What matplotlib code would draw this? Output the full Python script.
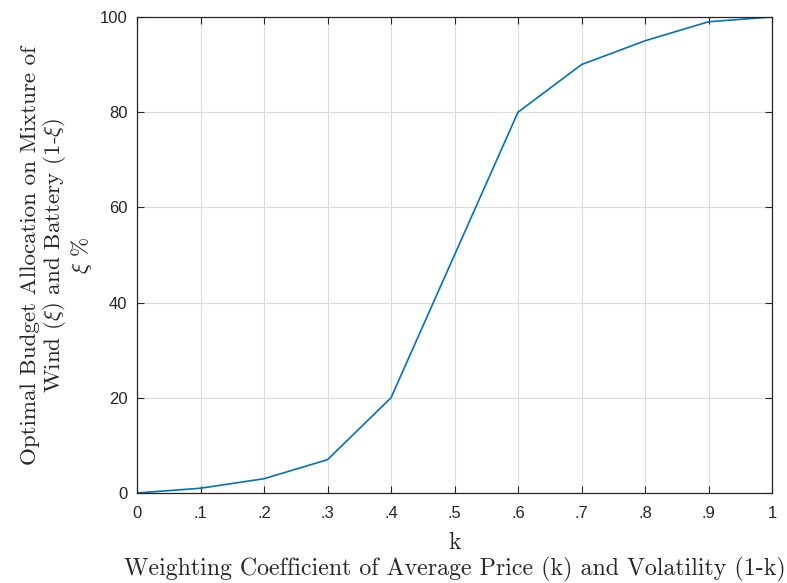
import numpy as np
import matplotlib.pyplot as plt

plt.rcParams['mathtext.fontset'] = 'cm'
plt.rcParams['axes.unicode_minus'] = False

# data
k = [0, 0.1, 0.2, 0.3, 0.4, 0.5, 0.6, 0.7, 0.8, 0.9, 1.0]
xi = [0, 1, 3, 7, 20, 50, 80, 90, 95, 99, 100]
xticks = [0, 0.1, 0.2, 0.3, 0.4, 0.5, 0.6, 0.7, 0.8, 0.9, 1.0]
xticklabels = ['0', '.1', '.2', '.3', '.4', '.5', '.6', '.7', '.8', '.9', '1']
yticks = [0, 20, 40, 60, 80, 100]

fig = plt.figure(figsize=(7.87, 5.83), dpi=100)
ax = fig.add_axes([137/787, 1 - 493/583, 635/787, 476/583])

ax.plot(k, xi, color='#0072BD', lw=1.2)

ax.set_xlim(0, 1)
ax.set_ylim(0, 100)
ax.set_xticks(xticks)
ax.set_xticklabels(xticklabels)
ax.set_yticks(yticks)
ax.grid(True, color='#dcdcdc', lw=0.8)
ax.set_axisbelow(True)

ax.tick_params(direction='in', length=5, width=0.8, top=True, right=True,
               labelsize=12, colors='#262626', pad=7)
ax.tick_params(axis='x', pad=9)
for lab in ax.get_xticklabels() + ax.get_yticklabels():
    lab.set_family('Liberation Sans')
for s in ax.spines.values():
    s.set_color('#262626')
    s.set_linewidth(0.9)

ax.set_xlabel('k\nWeighting Coefficient of Average Price (k) and Volatility (1-k)',
              family='cmr10', fontsize=17.2, color='#262626', labelpad=8,
              linespacing=1.15)
ax.set_ylabel('Optimal Budget Allocation on Mixture of\n'
              'Wind ($\\xi$) and Battery (1-$\\xi$)\n$\\xi$ %',
              family='cmr10', fontsize=16.6, color='#262626', labelpad=4,
              linespacing=1.05)

fig.savefig('out.png', dpi=100)
